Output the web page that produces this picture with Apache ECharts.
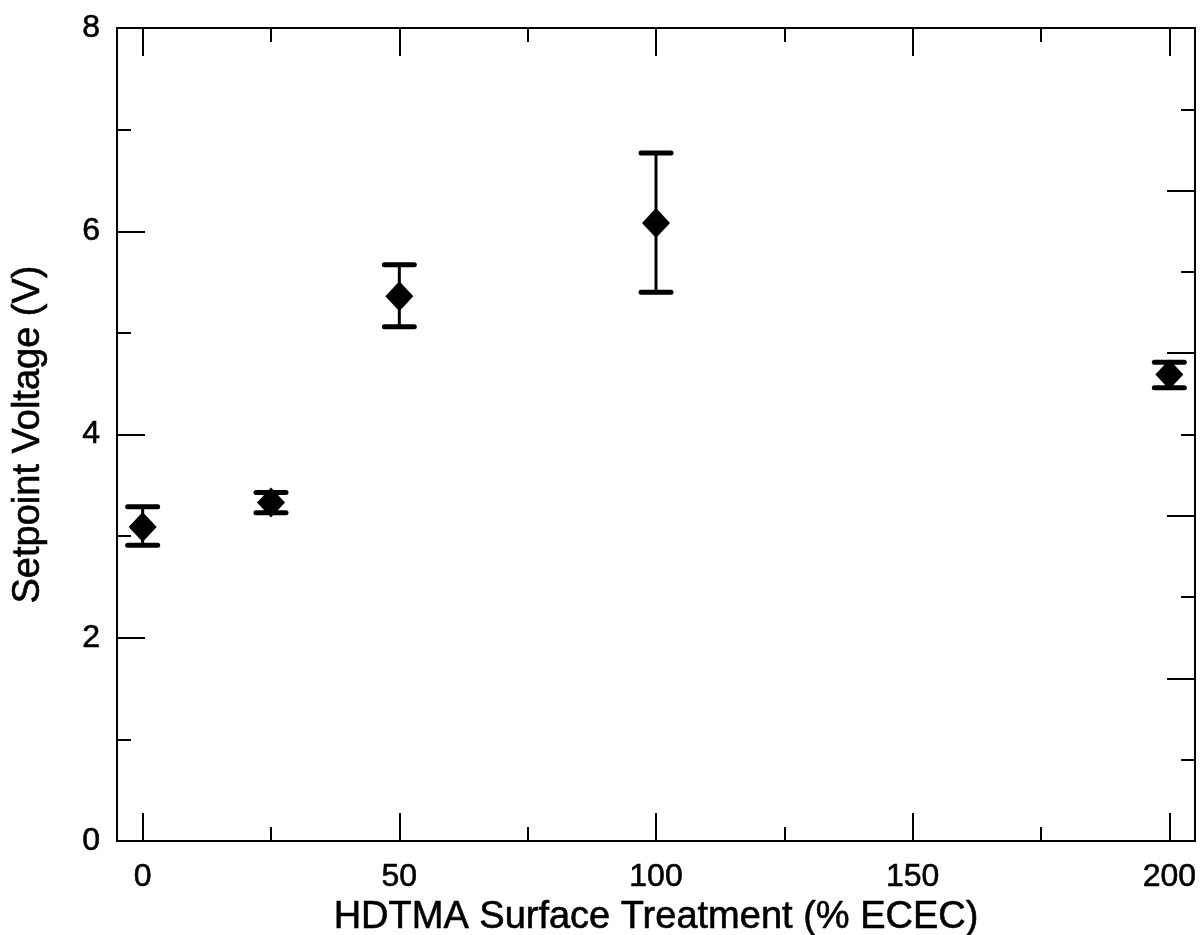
<!DOCTYPE html>
<html>
<head>
<meta charset="utf-8">
<script src="https://cdn.jsdelivr.net/npm/echarts@6/dist/echarts.min.js"></script>
<style>
  html, body { margin: 0; padding: 0; background: #fff; }
  #chart { width: 1204px; height: 935px; }
</style>
</head>
<body>
<div id="chart"></div>
<script>
// treatment levels (% ECEC)
var treatment = [0, 25, 50, 100, 200];
// mean setpoint voltage (V)
var voltage = [3.09, 3.33, 5.36, 6.08, 4.59];
// error bar ends
var errLow = [2.91, 3.23, 5.06, 5.40, 4.46];
var errHigh = [3.29, 3.43, 5.67, 6.77, 4.71];
// x axis ticks
var xMajor = [0, 50, 100, 150, 200];
var xMinor = [25, 75, 125, 175];

var chart = echarts.init(document.getElementById('chart'));

var FONT = '"Liberation Sans", Arial, sans-serif';
var lineStyle = { color: '#000', width: 2 };
// scanned text looks a little heavier than plain Arial
var textThick = { textBorderColor: '#000', textBorderWidth: 0.6 };

function xAxisDef(pos, ticks, len, labels, showLine) {
  return {
    type: 'value',
    position: pos,
    min: -5,
    max: 205,
    splitLine: { show: false },
    axisLine: { show: showLine, onZero: false, lineStyle: lineStyle },
    axisTick: { show: true, inside: true, length: len, customValues: ticks, lineStyle: lineStyle },
    axisLabel: labels ? Object.assign({
      show: true, customValues: ticks, margin: 20,
      color: '#000', fontSize: 32, fontFamily: FONT
    }, textThick) : { show: false }
  };
}

var bottomMain = xAxisDef('bottom', xMajor, 28, true, true);
bottomMain.name = 'HDTMA Surface Treatment (% ECEC)';
bottomMain.nameLocation = 'middle';
bottomMain.nameGap = 37;
bottomMain.nameTextStyle = Object.assign({ color: '#000', fontSize: 38, fontFamily: FONT }, textThick);

var option = {
  backgroundColor: '#fff',
  animation: false,
  grid: {
    left: 117, right: 9, top: 28, bottom: 94,
    containLabel: false,
    outerBoundsMode: 'none'
  },
  xAxis: [
    bottomMain,
    xAxisDef('bottom', xMinor, 14, false, false),
    xAxisDef('top', xMajor, 28, false, true),
    xAxisDef('top', xMinor, 14, false, false)
  ],
  yAxis: [{
    type: 'value',
    position: 'left',
    min: 0,
    max: 8,
    interval: 2,
    name: 'Setpoint Voltage (V)',
    nameLocation: 'middle',
    nameGap: 69,
    nameTextStyle: Object.assign({ color: '#000', fontSize: 38, fontFamily: FONT }, textThick),
    splitLine: { show: false },
    axisLine: { show: true, onZero: false, lineStyle: lineStyle },
    axisTick: { inside: true, length: 28, lineStyle: lineStyle },
    minorTick: { show: true, splitNumber: 2, length: 14, lineStyle: lineStyle },
    axisLabel: Object.assign({ margin: 17, color: '#000', fontSize: 32, fontFamily: FONT }, textThick)
  }, {
    type: 'value',
    position: 'right',
    min: 0,
    max: 10,
    interval: 2,
    splitLine: { show: false },
    axisLine: { show: true, onZero: false, lineStyle: lineStyle },
    axisTick: { inside: true, length: 28, lineStyle: lineStyle },
    minorTick: { show: true, splitNumber: 2, length: 14, lineStyle: lineStyle },
    axisLabel: { show: false }
  }],
  series: [{
    type: 'custom',
    xAxisIndex: 0,
    yAxisIndex: 0,
    data: treatment.map(function (x, i) { return [x, errLow[i], errHigh[i]]; }),
    renderItem: function (params, api) {
      var lo = api.coord([api.value(0), api.value(1)]);
      var hi = api.coord([api.value(0), api.value(2)]);
      var half = 15;
      return {
        type: 'group',
        children: [{
          type: 'line',
          shape: { x1: lo[0], y1: lo[1], x2: hi[0], y2: hi[1] },
          style: { stroke: '#000', lineWidth: 3 }
        }, {
          type: 'line',
          shape: { x1: hi[0] - half, y1: hi[1], x2: hi[0] + half, y2: hi[1] },
          style: { stroke: '#000', lineWidth: 5, lineCap: 'round' }
        }, {
          type: 'line',
          shape: { x1: lo[0] - half, y1: lo[1], x2: lo[0] + half, y2: lo[1] },
          style: { stroke: '#000', lineWidth: 5, lineCap: 'round' }
        }]
      };
    },
    z: 2
  }, {
    type: 'scatter',
    xAxisIndex: 0,
    yAxisIndex: 0,
    symbol: 'diamond',
    symbolSize: [28, 30],
    itemStyle: { color: '#000', opacity: 1 },
    data: treatment.map(function (x, i) { return [x, voltage[i]]; }),
    z: 3
  }]
};

chart.setOption(option);
window.addEventListener('resize', function () {
  chart.resize();
});
</script>
</body>
</html>
